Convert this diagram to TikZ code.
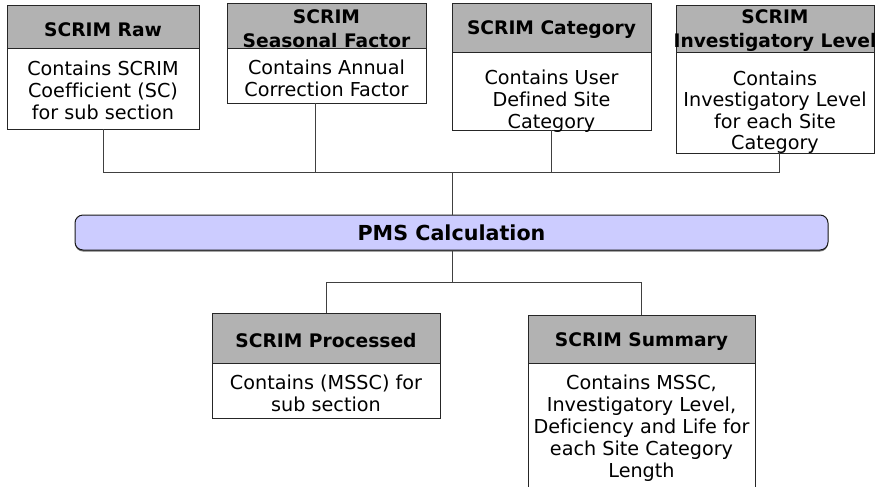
\documentclass[tikz,border=0pt]{standalone}
\usepackage{fontspec}
\setmainfont{DejaVu Sans}[Ligatures=CommonOff]
\begin{document}
\begin{tikzpicture}[x=0.75pt,y=-0.75pt,
  every node/.style={inner sep=0pt, outer sep=0pt},
  hdr/.style={draw=black!85, line width=0.75pt, fill=black!30, anchor=north west},
  hdrtext/.style={anchor=center, align=center, font=\bfseries\fontsize{14}{17.6}\selectfont},
  bodybox/.style={draw=black!85, line width=0.75pt, fill=white, anchor=north west},
  bodytext/.style={anchor=north, align=center, font=\fontsize{14.4}{16.5}\selectfont},
  link/.style={draw=black!75, line width=0.75pt},
]
\useasboundingbox (0,0) rectangle (877,486);
\clip (0,0) rectangle (877,486);

% ---- source tables ----
\node[hdr, minimum width={192*0.75pt}, minimum height={43*0.75pt}] (rawH) at (7,5) {};
\node[hdrtext] (rawL) at ([yshift=-2.25pt]rawH.center) {SCRIM Raw};
\node[bodybox, minimum width={192*0.75pt}, minimum height={81*0.75pt}] (rawB) at (rawH.south west) {};
\node[bodytext] (rawT) at ([yshift=-9.75pt]rawB.north) {Contains SCRIM\\Coefficient (SC)\\for sub section};

\node[hdr, minimum width={199*0.75pt}, minimum height={45*0.75pt}] (seaH) at (227,3) {};
\node[hdrtext] (seaL) at ([yshift=-2.25pt]seaH.center) {SCRIM\\Seasonal Factor};
\node[bodybox, minimum width={199*0.75pt}, minimum height={55*0.75pt}] (seaB) at (seaH.south west) {};
\node[bodytext] (seaT) at ([yshift=-9pt]seaB.north) {Contains Annual\\Correction Factor};

\node[hdr, minimum width={199*0.75pt}, minimum height={49*0.75pt}] (catH) at (452,3) {};
\node[hdrtext] (catL) at ([yshift=-1.5pt]catH.center) {SCRIM Category};
\node[bodybox, minimum width={199*0.75pt}, minimum height={78*0.75pt}] (catB) at (catH.south west) {};
\node[bodytext] (catT) at ([yshift=-13.5pt]catB.north) {Contains User\\Defined Site\\Category};

\node[hdr, minimum width={198*0.75pt}, minimum height={47*0.75pt}] (invH) at (676,5) {};
\node[hdrtext] (invL) at ([yshift=-1.5pt]invH.center) {SCRIM\\Investigatory Level};
\node[bodybox, minimum width={198*0.75pt}, minimum height={101*0.75pt}] (invB) at (invH.south west) {};
\node[bodytext, font=\fontsize{14.4}{16}\selectfont] (invT) at ([yshift=-14.25pt]invB.north) {Contains\\Investigatory Level\\for each Site\\Category};

% ---- calculation bar ----
\fill[black!55, rounded corners=6pt] (75,217) rectangle (828,251.5);
\node[draw=black!90, line width=0.75pt, rounded corners=6pt, fill={rgb,255:red,204;green,204;blue,255},
  minimum width={753*0.75pt}, minimum height={35*0.75pt},
  font=\bfseries\fontsize{15.5}{18}\selectfont] (pms) at (451.5,232.5) {PMS Calculation};

% ---- result tables ----
\node[hdr, minimum width={228*0.75pt}, minimum height={50*0.75pt}] (proH) at (212,313) {};
\node[hdrtext] (proL) at ([yshift=-2.25pt]proH.center) {SCRIM Processed};
\node[bodybox, minimum width={228*0.75pt}, minimum height={55*0.75pt}] (proB) at (proH.south west) {};
\node[bodytext] (proT) at ([yshift=-9pt]proB.north) {Contains (MSSC) for\\sub section};

\node[hdr, minimum width={227*0.75pt}, minimum height={48*0.75pt}] (sumH) at (528,315) {};
\node[hdrtext] (sumL) at ([yshift=-2.25pt]sumH.center) {SCRIM Summary};
\node[bodybox, minimum width={227*0.75pt}, minimum height={160*0.75pt}] (sumB) at (sumH.south west) {};
\node[bodytext] (sumT) at ([yshift=-9pt]sumB.north) {Contains MSSC,\\Investigatory Level,\\Deficiency and Life for\\each Site Category\\Length};

% ---- connectors ----
\coordinate (bus) at (452,172);
\coordinate (split) at (452,282);
\draw[link] (rawB.south) -- (rawB.south |- bus) -- ([xshift=3pt]invB.south |- bus) -- ([xshift=3pt]invB.south);
\draw[link] ([xshift=-8.6pt]seaB.south) -- ([xshift=-8.6pt]seaB.south |- bus);
\draw[link] (catB.south) -- (catB.south |- bus);
\draw[link] (bus) -- (bus |- pms.north);
\draw[link] (bus |- pms.south) -- (split);
\draw[link] (proH.north) -- (proH.north |- split) -- (sumH.north |- split) -- (sumH.north);
\end{tikzpicture}
\end{document}
